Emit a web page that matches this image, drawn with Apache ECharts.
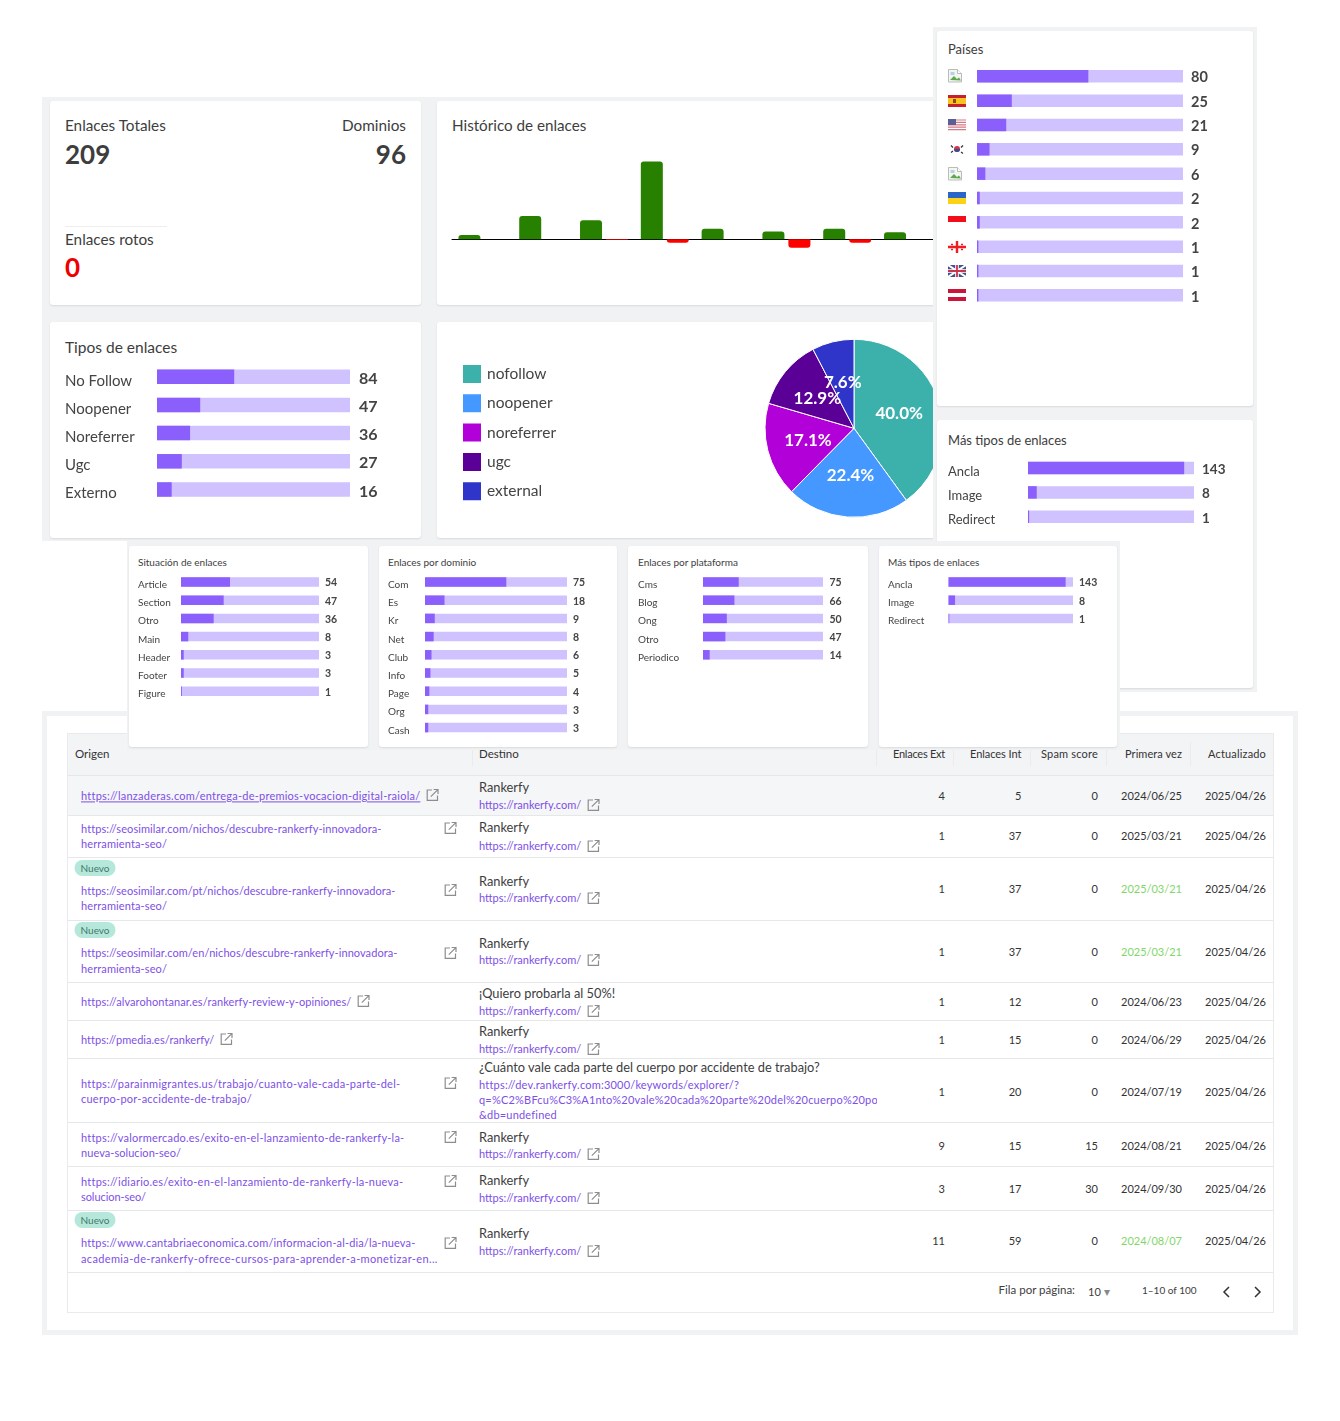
<!DOCTYPE html>
<html lang="es"><head><meta charset="utf-8">
<script src="https://cdn.jsdelivr.net/npm/echarts@6/dist/echarts.min.js"></script>
<style>
html,body{margin:0;padding:0;background:#fff}
#page{position:relative;width:1340px;height:1421px;overflow:hidden;font-family:Lato,sans-serif;color:#3d3d3d}
.box{position:absolute;box-sizing:border-box}
.t{position:absolute;white-space:nowrap;transform:translateY(-50%);line-height:1.2}
.r{transform:translate(-100%,-50%)}
.ico{position:absolute;transform:translateY(-50%)}
.ico svg{display:block}
</style></head><body><div id="page"></div>
<script>
// ---------- data ----------
const countryValues=[80,25,21,9,6,2,2,1,1,1];
const linkTypeLabels=['No Follow','Noopener','Noreferrer','Ugc','Externo'];
const linkTypeValues=[84,47,36,27,16];
const moreTypeLabels=['Ancla','Image','Redirect'];
const moreTypeValues=[143,8,1];
const situationLabels=['Article','Section','Otro','Main','Header','Footer','Figure'];
const situationValues=[54,47,36,8,3,3,1];
const domainLabels=['Com','Es','Kr','Net','Club','Info','Page','Org','Cash'];
const domainValues=[75,18,9,8,6,5,4,3,3];
const platformLabels=['Cms','Blog','Ong','Otro','Periodico'];
const platformValues=[75,66,50,47,14];
const historyMonths=['1','2','3','4','5','6','7','8'];
const historyGained=[5,27,22,90,12,9,12,8];
const historyLost=[0,0,1,4,0,10,4,0];
const pieLabels=['nofollow','noopener','noreferrer','ugc','external'];
const pieValues=[84,47,36,27,16];
const pieColors=['#3cb1ac','#4598ff','#b100d8','#5a0096','#2f35c9'];
const flagCodes=['broken','es','us','kr','broken','ua','id','ge','gb','at'];

const originLines=[
 ['https://lanzaderas.com/entrega-de-premios-vocacion-digital-raiola/'],
 ['https://seosimilar.com/nichos/descubre-rankerfy-innovadora-','herramienta-seo/'],
 ['https://seosimilar.com/pt/nichos/descubre-rankerfy-innovadora-','herramienta-seo/'],
 ['https://seosimilar.com/en/nichos/descubre-rankerfy-innovadora-','herramienta-seo/'],
 ['https://alvarohontanar.es/rankerfy-review-y-opiniones/'],
 ['https://pmedia.es/rankerfy/'],
 ['https://parainmigrantes.us/trabajo/cuanto-vale-cada-parte-del-','cuerpo-por-accidente-de-trabajo/'],
 ['https://valormercado.es/exito-en-el-lanzamiento-de-rankerfy-la-','nueva-solucion-seo/'],
 ['https://idiario.es/exito-en-el-lanzamiento-de-rankerfy-la-nueva-','solucion-seo/'],
 ['https://www.cantabriaeconomica.com/informacion-al-dia/la-nueva-','academia-de-rankerfy-ofrece-cursos-para-aprender-a-monetizar-en...']
];
const isNew=[false,false,true,true,false,false,false,false,false,true];
const destTitles=['Rankerfy','Rankerfy','Rankerfy','Rankerfy','¡Quiero probarla al 50%!','Rankerfy','¿Cuánto vale cada parte del cuerpo por accidente de trabajo?','Rankerfy','Rankerfy','Rankerfy'];
const destLongLink=['https://dev.rankerfy.com:3000/keywords/explorer/?','q=%C2%BFcu%C3%A1nto%20vale%20cada%20parte%20del%20cuerpo%20por%20accidente','&db=undefined'];
const destLink='https://rankerfy.com/';
const extLinks=[4,1,1,1,1,1,1,9,3,11];
const intLinks=[5,37,37,37,12,15,20,15,17,59];
const spamScore=[0,0,0,0,0,0,0,15,30,0];
const firstSeen=['2024/06/25','2025/03/21','2025/03/21','2025/03/21','2024/06/23','2024/06/29','2024/07/19','2024/08/21','2024/09/30','2024/08/07'];
const firstSeenNew=[false,false,true,true,false,false,false,false,false,true];
const updated=Array(10).fill('2025/04/26');
const headerLabels=['Enlaces Ext','Enlaces Int','Spam score','Primera vez','Actualizado'];

// ---------- layout ----------
const rowLines=[775,815,857,920,982,1020,1058,1122,1166,1210,1272];
const originY=[[796],[829,844],[891,906],[953,969],[1002],[1040],[1084,1099],[1138,1153],[1182,1197],[1243,1259]];
const originEnd=[[420],[381,167],[395,167],[397,167],[351],[214],[400,252],[404,181],[403,146],[415,438]];
const originIcon=[[432,795],[450,828],[450,890],[450,953],[363,1001],[226,1039],[450,1083],[450,1137],[450,1181],[450,1243]];
const destY=[[788,805],[828,846],[882,898],[944,960],[994,1011],[1032,1049],[1068,1085],[1138,1154],[1181,1198],[1234,1251]];
const numY=[796,836,889,952,1002,1040,1092,1146,1189,1241];
const badgeY={2:868,3:930,9:1220};
const colRight=[945,1021.5,1098,1182,1266];
const headerWidth=[52,51.5,57,57,58];
const colSep=[472,876,953,1029.5,1106,1190];

const page=document.getElementById('page');
const FONT='Lato, sans-serif', DARK='#3d3d3d', PURPLE='#7d4fe6';
let zNext=1;
function box(x,y,w,h,bg,extra){const d=document.createElement('div');d.className='box';
  d.style.cssText=`left:${x}px;top:${y}px;width:${w}px;height:${h}px;background:${bg};z-index:${zNext};${extra||''}`;page.appendChild(d);return d;}
function card(x,y,x2,y2){return box(x,y,x2-x,y2-y,'#fff','border-radius:3px;box-shadow:0 1px 2px rgba(0,0,0,.10)');}
function txt(s,x,y,size,o){o=o||{};const d=document.createElement('div');d.className='t'+(o.right?' r':'');d.textContent=s;
  d.style.cssText=`left:${x}px;top:${y}px;font-size:${size}px;color:${o.color||DARK};font-weight:${o.bold?700:400};z-index:${zNext};${o.css||''}`;page.appendChild(d);
  if(o.width){const w=d.getBoundingClientRect().width;d.style.letterSpacing=((o.width-w)/Math.max(1,s.length))+'px';}
  return d;}
function svgAt(inner,x,y,w,h){const d=document.createElement('div');d.className='ico';
  d.style.cssText=`left:${x}px;top:${y}px;width:${w}px;height:${h}px;z-index:${zNext}`;
  d.innerHTML=`<svg xmlns="http://www.w3.org/2000/svg" width="${w}" height="${h}" viewBox="0 0 ${w} ${h}">${inner}</svg>`;page.appendChild(d);}
function extIcon(cx,cy){svgAt('<path d="M6 1.5H1.2v10.3h10.3V7" fill="none" stroke="#8d8d8d" stroke-width="1.2"/><path d="M4.8 8.2L11.6 1.4M7.6 1H12v4.4" fill="none" stroke="#8d8d8d" stroke-width="1.2"/>',cx-6.5,cy,13,13);}
function mount(x,y,w,h,option){const d=document.createElement('div');
  d.style.cssText=`position:absolute;left:${x}px;top:${y}px;width:${w}px;height:${h}px;z-index:${zNext}`;page.appendChild(d);
  const c=echarts.init(d,null,{width:w,height:h});c.setOption(Object.assign({animation:false,textStyle:{fontFamily:FONT}},option));return c;}

function hbar(cardBox,g,labels,values){
  const total=values.reduce((a,b)=>a+b,0),[cx,cy,cw,ch]=cardBox,n=values.length;
  const top=g.first-g.step/2-cy;
  const gridAt=dy=>({left:g.left-cx,width:g.right-g.left,top:top+dy,height:g.step*n});
  const axisBase={type:'category',inverse:true,axisLine:{show:false},axisTick:{show:false},splitLine:{show:false}};
  const xBase={type:'value',min:0,max:total,show:false};
  mount(cx,cy,cw,ch,{
    grid:[gridAt(0),gridAt(g.labelDy),gridAt(g.valueDy)],
    xAxis:[0,1,2].map(i=>Object.assign({},xBase,{gridIndex:i})),
    yAxis:[
      Object.assign({},axisBase,{gridIndex:0,data:values.map(String),axisLabel:{show:false}}),
      Object.assign({},axisBase,{gridIndex:1,data:labels||values.map(()=>''),position:'left',
        axisLabel:{show:!!labels,interval:0,align:'left',margin:g.left-g.labelX,fontSize:g.labelSize,color:'#444',fontFamily:FONT}}),
      Object.assign({},axisBase,{gridIndex:2,data:values.map(String),position:'right',
        axisLabel:{interval:0,align:'left',margin:g.valueX-g.right,fontSize:g.valueSize,fontWeight:700,color:'#444',fontFamily:FONT}})
    ],
    series:[{type:'bar',xAxisIndex:0,yAxisIndex:0,data:values,barWidth:g.bar,showBackground:true,
      backgroundStyle:{color:'#d0c2fe'},itemStyle:{color:'#8b5ffb'},silent:true}]
  });
}

// ---------- table panel ----------
zNext=1;
box(42,711,1256,624,'#fff','border:5px solid #f1f2f4');
box(67,733,1207,580,'#fff','border:1px solid #e9eaec');
box(68,734,1205,41,'#f3f4f6');
box(68,775,1205,40,'#f5f6f7');
zNext=2;
rowLines.forEach(y=>box(68,y,1205,1,'#e6e7e9'));
colSep.forEach(x=>box(x,742,1,24,'#eaebed'));
txt('Origen',75,754,11.5,{color:'#333'});
txt('Destino',479,754,11.5,{color:'#333'});
headerLabels.forEach((h,i)=>txt(h,colRight[i],754,11,{right:true,color:'#333',width:headerWidth[i]}));
originLines.forEach((lines,i)=>{
  lines.forEach((l,k)=>txt(l,81,originY[i][k],11,{color:PURPLE,width:originEnd[i][k]-81,css:i===0?'text-decoration:underline;':''}));
  extIcon(originIcon[i][0],originIcon[i][1]);
  if(isNew[i]){txt('Nuevo',95,badgeY[i],10,{color:'#42786a',css:'transform:translate(-50%,-50%);background:#b5e8da;border-radius:9px;padding:2px 6px;'});}
  txt(destTitles[i],479,destY[i][0],12.8,{color:'#3d3d3d'});
  if(i===6){
    destLongLink.forEach((l,k)=>{const d=txt(l,479,[1085,1100,1115][k],11,{color:PURPLE,css:'letter-spacing:.2px;'});d.style.maxWidth='398px';d.style.overflow='hidden';});
  } else {
    txt(destLink,479,destY[i][1],11,{color:PURPLE});
    extIcon(593,destY[i][1]);
  }
  const vals=[extLinks[i],intLinks[i],spamScore[i],firstSeen[i],updated[i]];
  vals.forEach((v,k)=>txt(String(v),colRight[k],numY[i],11,{right:true,color:(k===3&&firstSeenNew[i])?'#7fd76a':'#333'}));
});
txt('Fila por página:',1075,1290,11.5,{right:true});
txt('10',1088,1292,11);
txt('▾',1103.5,1292,12,{color:'#888'});
txt('1–10 of 100',1142,1290,10);
const chevron=d=>`<path d="${d}" fill="none" stroke="#333" stroke-width="1.5"/>`;
svgAt(chevron('M7 1L2 6l5 5'),1222,1292,9,12);
svgAt(chevron('M2 1l5 5-5 5'),1253,1292,9,12);

// ---------- top-left panel ----------
zNext=3;
box(42,97,893,444,'#f1f2f4');
zNext=4;
card(50,101,421,305);card(437,101,945,305);card(50,322,421,538);card(437,322,945,538);
zNext=5;
txt('Enlaces Totales',65,125,15.3);
txt('Dominios',406,125,15.3,{right:true});
txt('209',65,155,26,{bold:true});
txt('96',406,155,26,{bold:true,right:true});
box(65,226,102,1,'#eeeeee');
txt('Enlaces rotos',65,239,15.3);
txt('0',65,268,26,{bold:true,color:'#ee0000'});
txt('Histórico de enlaces',452,125,15.2);
txt('Tipos de enlaces',65,347,15.5);

mount(437,101,508,204,{
  grid:{left:15,width:486.4,top:52,height:129.3},
  xAxis:{type:'category',data:historyMonths,axisLabel:{show:false},axisTick:{show:false},
    axisLine:{show:true,onZero:true,lineStyle:{color:'#000',width:1}}},
  yAxis:{type:'value',min:-50,max:100,show:false},
  series:[
    {type:'bar',data:historyGained,barWidth:22,barGap:'18%',itemStyle:{color:'#278000',borderRadius:[3,3,0,0]}},
    {type:'bar',data:historyLost.map(v=>-v),barWidth:22,itemStyle:{color:'#ff0000',borderRadius:[0,0,3,3]}}
  ]
});
hbar([50,322,371,216],{left:157,right:350,first:376.7,step:28.2,bar:14.5,labelX:65,labelSize:15,labelDy:4,valueX:359,valueSize:16,valueDy:2},linkTypeLabels,linkTypeValues);
mount(437,322,508,216,{
  legend:{orient:'vertical',left:24,top:41,padding:0,itemWidth:20,itemHeight:20,itemGap:7.3,icon:'rect',data:pieLabels,
    textStyle:{fontSize:15.5,lineHeight:19,color:'#444',fontFamily:FONT}},
  series:[{type:'pie',center:[417,106.3],radius:[0,89],startAngle:90,clockwise:true,avoidLabelOverlap:false,
    data:pieLabels.map((n,i)=>({name:n,value:pieValues[i],itemStyle:{color:pieColors[i]}})),
    itemStyle:{borderColor:'#fff',borderWidth:1},
    label:{show:true,position:'inside',formatter:p=>p.percent.toFixed(1)+'%',color:'#fff',fontSize:17,fontWeight:700,fontFamily:FONT},
    labelLayout:{hideOverlap:false},
    labelLine:{show:false}}]
});

// ---------- right panel ----------
zNext=6;
box(933,27,324,665,'#f1f2f4');
card(937,31,1253,406);card(937,420,1253,688);
zNext=7;
txt('Países',948,50,13);
txt('Más tipos de enlaces',948,441,13);
hbar([937,31,316,375],{left:977,right:1183,first:76.3,step:24.34,bar:12.5,labelX:948,labelSize:12,labelDy:0,valueX:1191,valueSize:14.5,valueDy:1.5},null,countryValues);
hbar([937,420,316,268],{left:1028,right:1194,first:468,step:24.4,bar:12.5,labelX:948,labelSize:13,labelDy:3.5,valueX:1202,valueSize:13.5,valueDy:1.5},moreTypeLabels,moreTypeValues);

const flagArt={
 broken:'<path d="M.5.5h9l4 4v8.5H.5z" fill="#f4f6f4" stroke="#b8bdb8"/><path d="M9.5.5v4h4" fill="#fff" stroke="#b8bdb8"/><path d="M2 11l4-4 3 3 2-1.5 2 3z" fill="#5da84a"/><rect x="2.5" y="3" width="4" height="3" fill="#b9cfe6"/>',
 es:'<rect width="18" height="12" fill="#c8202a"/><rect y="3" width="18" height="6" fill="#f6c320"/><rect x="5" y="4" width="3" height="4" fill="#8c4a20"/>',
 us:'<rect width="18" height="12" fill="#fff"/><path d="M0 1h18M0 3.4h18M0 5.8h18M0 8.2h18M0 10.6h18" stroke="#d47a86" stroke-width="1.2"/><rect width="8" height="6" fill="#5c5f96"/>',
 kr:'<rect width="18" height="12" fill="#fff"/><circle cx="9" cy="6" r="3" fill="#d9333f"/><path d="M6 6a3 3 0 0 0 6 0z" fill="#2f4fa0"/><path d="M3 2.5l2 2M13 9l2 1.5M15 2.5l-2 2M3 9.5l2-1.5" stroke="#333" stroke-width="1.2"/>',
 ua:'<rect width="18" height="6" fill="#2a66c8"/><rect y="6" width="18" height="6" fill="#fbd215"/>',
 id:'<rect width="18" height="6" fill="#f20d1a"/><rect y="6" width="18" height="6" fill="#fff"/>',
 ge:'<rect width="18" height="12" fill="#fff"/><path d="M9 0v12M0 6h18" stroke="#ef1c24" stroke-width="2.4"/><path d="M4 2.5v2M3 3.5h2M14 2.5v2M13 3.5h2M4 7.5v2M3 8.5h2M14 7.5v2M13 8.5h2" stroke="#ef1c24" stroke-width="1"/>',
 gb:'<rect width="18" height="12" fill="#44508f"/><path d="M0 0l18 12M18 0L0 12" stroke="#fff" stroke-width="2"/><path d="M9 0v12M0 6h18" stroke="#fff" stroke-width="3.6"/><path d="M9 0v12M0 6h18" stroke="#c9354a" stroke-width="1.8"/>',
 at:'<rect width="18" height="12" fill="#c8173a"/><rect y="4" width="18" height="4" fill="#fff"/>'
};
flagCodes.forEach((c,i)=>svgAt(flagArt[c],947.5,76.3+i*24.34,c==='broken'?15:18,c==='broken'?14:12));

// ---------- second row ----------
zNext=8;
box(127,541,993,209,'#f1f2f4');
zNext=9;
card(129,546,368,747);card(379,546,617,747);card(628,546,868,747);card(879,546,1117,747);
zNext=10;
txt('Situación de enlaces',138,562,10);
txt('Enlaces por dominio',388,562,10);
txt('Enlaces por plataforma',638,562,10);
txt('Más tipos de enlaces',888,562,10);
const small={first:582,step:18.2,bar:9.5,labelSize:10,labelDy:2.7,valueSize:10.5,valueDy:1};
hbar([129,546,239,201],Object.assign({},small,{left:181,right:319,labelX:138,valueX:325}),situationLabels,situationValues);
hbar([379,546,238,201],Object.assign({},small,{left:425,right:567,labelX:388,valueX:573}),domainLabels,domainValues);
hbar([628,546,240,201],Object.assign({},small,{left:703,right:823,labelX:638,valueX:829.5}),platformLabels,platformValues);
hbar([879,546,238,201],Object.assign({},small,{left:948.5,right:1073,labelX:888,valueX:1079}),moreTypeLabels,moreTypeValues);
</script></body></html>
